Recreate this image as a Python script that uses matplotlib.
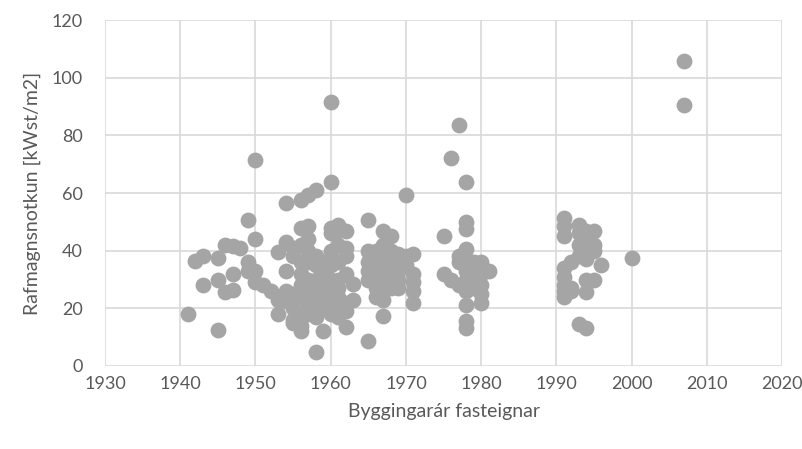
import matplotlib
matplotlib.use('Agg')
from matplotlib import pyplot as plt

# building year -> energy use values (kWst/m2)
years = {
    1941: [18],
    1942: [36.5],
    1943: [38, 28],
    1945: [12.5, 30, 37.5],
    1946: [42, 25.5],
    1947: [41.5, 32, 26.5],
    1948: [41],
    1949: [50.5, 36, 33],
    1950: [71.5, 44, 33, 29],
    1951: [28],
    1952: [26],
    1953: [39.5, 18, 23],
    1954: [56.5, 43, 33, 26, 22.5],
    1955: [41, 38, 25, 20, 16, 15],
    1956: [57.5, 48, 42, 36, 32, 28, 24, 18, 14, 12],
    1957: [59.5, 48.5, 44, 40, 36, 30, 26, 22, 20, 18],
    1958: [61, 38, 35, 30, 27, 24, 20, 17, 5],
    1959: [12, 36, 32, 28, 24, 20, 30],
    1960: [91.5, 64, 48, 46, 40, 35, 30, 26, 22, 18],
    1961: [49, 47, 42, 36, 30, 27, 24, 20, 17],
    1962: [47, 41, 38, 32, 22, 19, 13.5],
    1963: [28.5, 23],
    1965: [50.5, 40, 36, 33, 30, 8.5],
    1966: [40, 36, 33, 30, 27, 24],
    1967: [47, 42, 38, 33, 29, 26, 23, 17.5],
    1968: [45, 40, 37, 33, 30, 27],
    1969: [39, 36, 33, 30, 27],
    1970: [59.5, 38, 35],
    1971: [39, 32, 29, 26, 22],
    1975: [45, 32],
    1976: [72, 30],
    1977: [83.5, 38, 36, 28],
    1978: [64, 50, 47.5, 40.5, 37, 33, 30, 26, 21, 15.5, 13],
    1979: [36, 33, 30, 27],
    1980: [36, 32, 28, 25, 22],
    1981: [33],
    1991: [51.5, 48.5, 45, 34, 31, 28, 26, 24],
    1992: [36, 27, 26],
    1993: [49, 46, 42, 38, 14.5],
    1994: [47, 43, 40, 37, 30, 25.5, 13],
    1995: [47, 42, 40, 30],
    1996: [35],
    2000: [37.5],
    2007: [106, 90.5],
}

x = []
y = []
for yr, vals in years.items():
    for v in vals:
        x.append(yr)
        y.append(v)

xticks = list(range(1930, 2021, 10))
yticks = list(range(0, 121, 20))

plt.rcParams['font.family'] = ['Lato', 'DejaVu Sans']
txt = '#595959'

fig = plt.figure(figsize=(8.02, 4.49), dpi=100)
ax = fig.add_axes([0.131, 0.185, 0.844, 0.77])
ax.scatter(x, y, s=130, color='#A5A5A5', linewidths=0, zorder=3)

ax.set_xlim(1930, 2020)
ax.set_ylim(0, 120)
ax.set_xticks(xticks)
ax.set_yticks(yticks)
ax.grid(True, color='#D9D9D9', linewidth=1.2, zorder=0)
for s in ax.spines.values():
    s.set_visible(False)
ax.tick_params(length=0, labelsize=13, colors=txt)
ax.tick_params(axis='x', pad=7)
ax.tick_params(axis='y', pad=16)
ax.set_xlabel('Byggingarár fasteignar', fontsize=14, color=txt, labelpad=8)
ax.set_ylabel('Rafmagnsnotkun [kWst/m2]', fontsize=14, color=txt, labelpad=8)

fig.savefig('out.png', dpi=100)
